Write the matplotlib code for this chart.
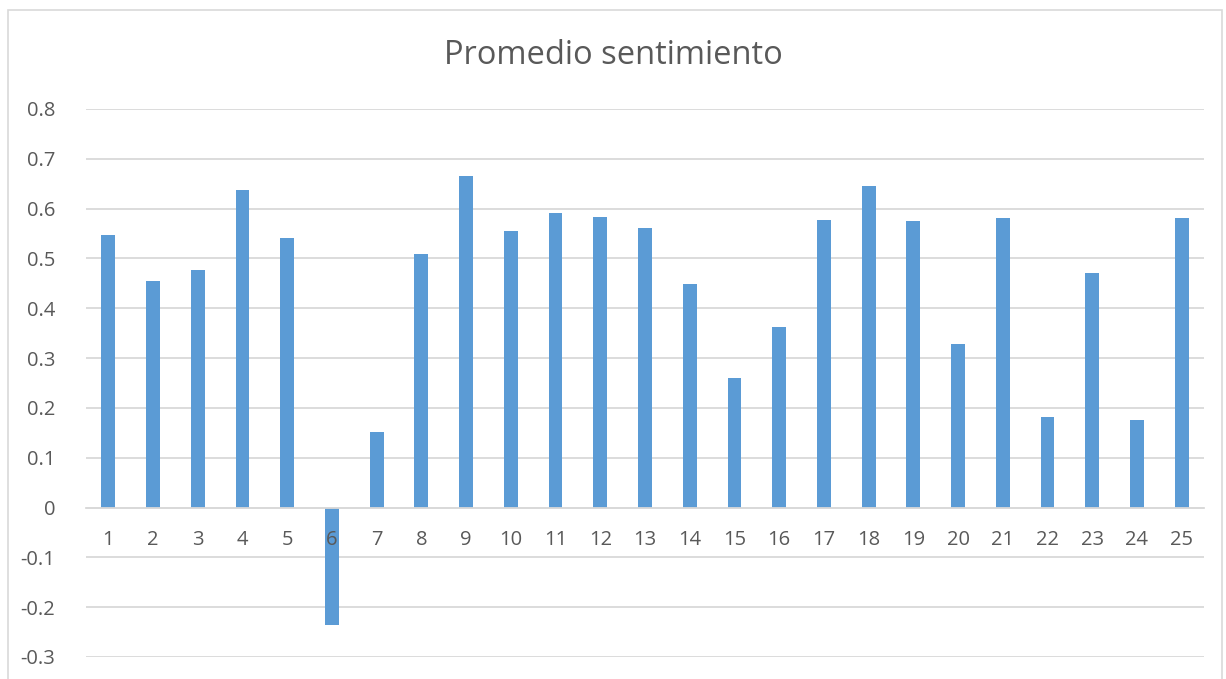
import matplotlib.pyplot as plt
from matplotlib.patches import Rectangle

# data
categorias = list(range(1, 26))
promedio = [0.547, 0.455, 0.477, 0.638, 0.541, -0.235, 0.152, 0.509, 0.666, 0.555,
            0.591, 0.583, 0.561, 0.449, 0.261, 0.363, 0.577, 0.646, 0.575, 0.329,
            0.581, 0.182, 0.471, 0.176, 0.581]
yticks = [-0.3, -0.2, -0.1, 0, 0.1, 0.2, 0.3, 0.4, 0.5, 0.6, 0.7, 0.8]

plt.rcParams['font.family'] = ['Open Sans', 'DejaVu Sans']
texto = '#595959'
grid = '#d9d9d9'

fig = plt.figure(figsize=(12.26, 6.79), dpi=100)
# chart border (cropped on right/bottom like the screenshot)
fig.patches.append(Rectangle((8 / 1226, -0.01), (1222 - 8) / 1226, 1 - 10 / 679 + 0.01,
                             transform=fig.transFigure, fill=False, edgecolor=grid, lw=1.2))

ax = fig.add_axes([86 / 1226, 22 / 679, (1204 - 86) / 1226, 548 / 679])
ax.bar(categorias, promedio, width=0.31, color='#5b9bd5', zorder=1)

ax.set_xlim(0.5, 25.5)
ax.set_ylim(-0.3, 0.8)
ax.set_yticks(yticks)
ax.set_yticklabels(['0' if v == 0 else f'{v:.1f}' for v in yticks])
ax.yaxis.grid(True, color=grid, lw=1.3)
ax.set_axisbelow(True)
ax.xaxis.set_zorder(2)  # labels over the negative bar, like Excel

for s in ['top', 'right', 'left']:
    ax.spines[s].set_visible(False)
ax.spines['bottom'].set_position(('data', 0))
ax.spines['bottom'].set_color(grid)
ax.spines['bottom'].set_linewidth(1.3)

ax.set_xticks(categorias)
ax.set_xticklabels([str(c) for c in categorias])
ax.tick_params(axis='x', length=0, pad=16, labelsize=14.5, labelcolor=texto)
ax.tick_params(axis='y', length=0, pad=22, labelsize=14.5, labelcolor=texto)

fig.text(0.5, 1 - 55 / 679, 'Promedio sentimiento', ha='center', va='center',
         fontsize=23.5, color=texto)

fig.savefig('out.png', dpi=100, facecolor='white')
